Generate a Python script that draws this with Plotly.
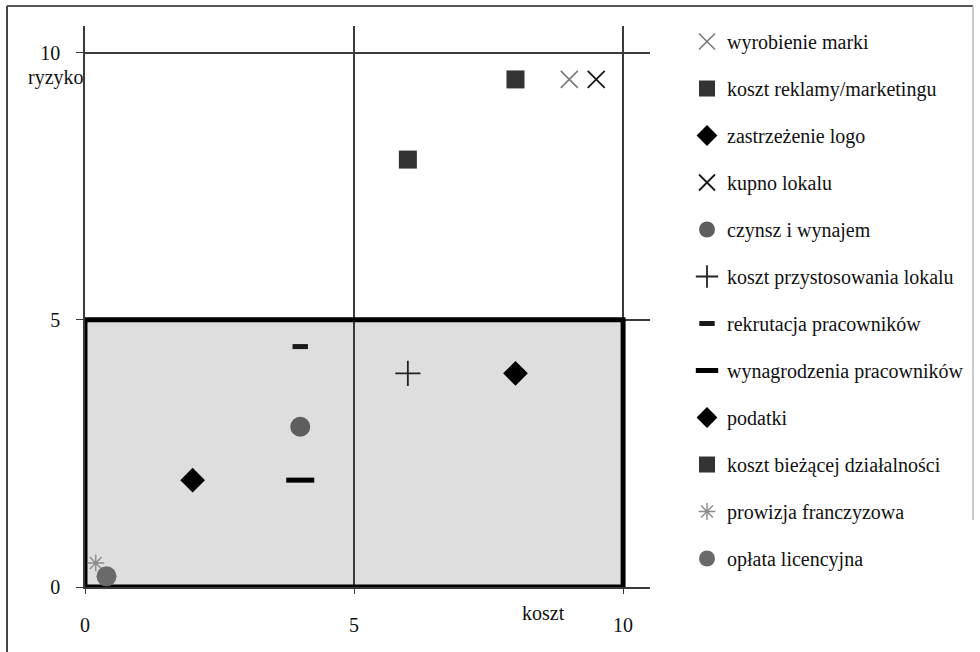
import plotly.graph_objects as go

# Risk (ryzyko) vs cost (koszt) for each franchise expense item
names = [
    "wyrobienie marki",
    "koszt reklamy/marketingu",
    "zastrzeżenie logo",
    "kupno lokalu",
    "czynsz i wynajem",
    "koszt przystosowania lokalu",
    "rekrutacja pracowników",
    "wynagrodzenia pracowników",
    "podatki",
    "koszt bieżącej działalności",
    "prowizja franczyzowa",
    "opłata licencyjna",
]
koszt = [9.0, 8.0, 8.0, 9.5, 4.0, 6.0, 4.0, 4.0, 2.0, 6.0, 0.2, 0.4]
ryzyko = [9.5, 9.5, 4.0, 9.5, 3.0, 4.0, 4.5, 2.0, 2.0, 8.0, 0.45, 0.2]

x_ticks = [0, 5, 10]
y_ticks = [0, 5, 10]

# marker style per series: (symbol, size, fill colour, line colour, line width)
styles = [
    ("x-thin-open", 17, "#7a7a7a", "#7a7a7a", 1.6),
    ("square", 18, "#333333", "#333333", 0),
    ("diamond", 19, "#000000", "#000000", 0),
    ("x-thin-open", 17, "#1a1a1a", "#1a1a1a", 1.8),
    ("circle", 20, "#5e5e5e", "#5e5e5e", 0),
    ("cross-thin-open", 18, "#222222", "#222222", 1.8),
    ("line-ew-open", 11, "#1a1a1a", "#1a1a1a", 5),
    ("line-ew-open", 20, "#000000", "#000000", 5),
    ("diamond", 19, "#000000", "#000000", 0),
    ("square", 18, "#333333", "#333333", 0),
    ("asterisk-open", 14, "#8c8c8c", "#8c8c8c", 1.4),
    ("circle", 20, "#6a6a6a", "#6a6a6a", 0),
]

FONT = "Liberation Serif"

fig = go.Figure()
for i, (n, xv, yv, st) in enumerate(zip(names, koszt, ryzyko, styles)):
    sym, size, fc, lc, lw = st
    fig.add_trace(go.Scatter(
        x=[xv], y=[yv], mode="markers", name=n, legendgroup=f"g{i}",
        marker=dict(symbol=sym, size=size, color=fc,
                    line=dict(color=lc, width=lw)),
        cliponaxis=False,
    ))

# plot area in pixels: x 85..650, y 26..587
L, R, T, B = 85, 650, 26, 587
W, H = R - L, B - T


def px(xp):
    return (xp - L) / W


def py(yp):
    return (B - yp) / H


grid = "#3a3a3a"

fig.update_xaxes(
    range=[0, 10.5], tickvals=x_ticks, showgrid=True, gridcolor=grid,
    gridwidth=1.5, showline=True, linecolor=grid, linewidth=1.5,
    zeroline=False, ticks="outside", ticklen=5, tickcolor=grid,
    tickfont=dict(family=FONT, size=20, color="#111111"),
    ticklabelstandoff=14, fixedrange=True,
)
fig.update_yaxes(
    range=[0, 10.5], tickvals=y_ticks, showgrid=True, gridcolor=grid,
    gridwidth=1.5, showline=True, linecolor=grid, linewidth=1.5,
    zeroline=False, ticks="outside", ticklen=7, tickcolor=grid,
    tickfont=dict(family=FONT, size=20, color="#111111"),
    ticklabelstandoff=12, fixedrange=True,
)

# shaded low-risk quadrant with heavy outline
fig.add_shape(type="rect", x0=0, x1=10, y0=0, y1=5, xref="x", yref="y",
              fillcolor="#dedede", line=dict(width=0), layer="below")
fig.add_shape(type="rect", x0=0, x1=10, y0=0, y1=5, xref="x", yref="y",
              fillcolor="rgba(0,0,0,0)", line=dict(color="#000000", width=5),
              layer="between")

# outer frame around the figure
fig.add_shape(type="line", xref="paper", yref="paper",
              x0=px(7), x1=px(7), y0=py(6), y1=py(660),
              line=dict(color="#444444", width=2))
fig.add_shape(type="line", xref="paper", yref="paper",
              x0=px(7), x1=px(973), y0=py(6), y1=py(6),
              line=dict(color="#555555", width=2))
fig.add_shape(type="line", xref="paper", yref="paper",
              x0=px(973), x1=px(973), y0=py(6), y1=py(520),
              line=dict(color="#bbbbbb", width=1.5))

fig.add_annotation(text="ryzyko", xref="paper", yref="paper",
                   x=px(56), y=py(78), showarrow=False,
                   xanchor="center", yanchor="middle",
                   font=dict(family=FONT, size=20, color="#111111"))
fig.add_annotation(text="koszt", xref="paper", yref="paper",
                   x=px(543), y=py(613), showarrow=False,
                   xanchor="center", yanchor="middle",
                   font=dict(family=FONT, size=20, color="#111111"))

fig.update_layout(
    width=980, height=652,
    margin=dict(l=L, r=980 - R, t=T, b=652 - B, autoexpand=False),
    paper_bgcolor="white", plot_bgcolor="white",
    showlegend=True,
    legend=dict(
        x=px(687), y=py(22), xanchor="left", yanchor="top",
        font=dict(family=FONT, size=20, color="#111111"),
        tracegroupgap=18, itemsizing="trace", maxheight=640,
        bgcolor="rgba(0,0,0,0)", borderwidth=0,
    ),
    font=dict(family=FONT),
)

fig.write_html("out.html")
